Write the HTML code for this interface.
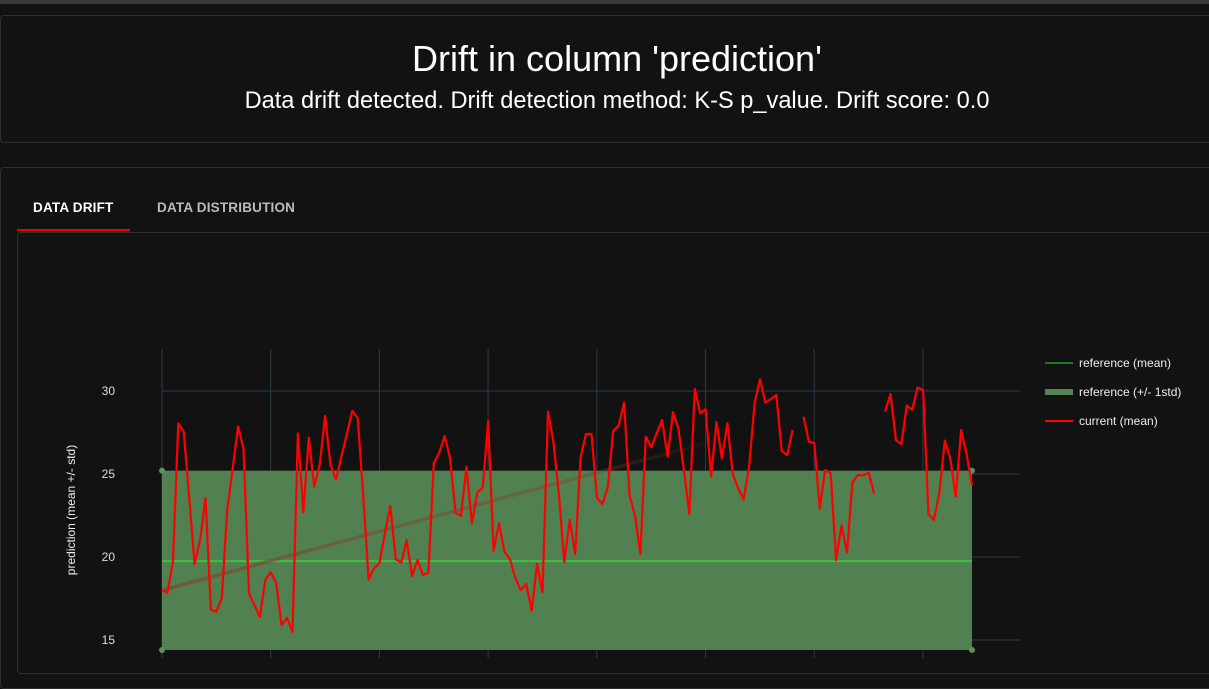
<!DOCTYPE html>
<html><head><meta charset="utf-8">
<style>
html,body{margin:0;padding:0;width:1209px;height:658px;overflow:hidden;background:#121212;font-family:"Liberation Sans",sans-serif;}
.topbar{position:absolute;left:0;top:0;width:1209px;height:4px;background:#3a3a3a;}
.panel1{position:absolute;left:0;top:15px;width:1220px;height:126px;border:1px solid #2e2e2e;border-radius:4px;background:#121212;}
.title{position:absolute;left:0;top:38px;width:1234px;text-align:center;color:#fff;font-size:36px;}
.sub{position:absolute;left:0;top:88px;width:1234px;text-align:center;color:#fff;font-size:23.6px;}
.panel2{position:absolute;left:0;top:167px;width:1220px;height:520px;border:1px solid #2e2e2e;border-radius:4px;background:#121212;}
.tab{position:absolute;top:200px;font-size:13.5px;font-weight:bold;letter-spacing:0.2px;}
.inner{position:absolute;left:17px;top:232px;width:1210px;height:440px;border:1px solid #2e2e2e;border-radius:4px;}
svg{position:absolute;left:0;top:0;}
</style></head><body>
<div class="topbar"></div>
<div class="panel1"></div>
<div class="title">Drift in column 'prediction'</div>
<div class="sub">Data drift detected. Drift detection method: K-S p_value. Drift score: 0.0</div>
<div class="panel2"></div>
<div class="tab" style="left:33px;color:#fff">DATA DRIFT</div>
<div style="position:absolute;left:17px;top:229px;width:113px;height:2px;background:#e00"></div>
<div class="tab" style="left:157px;color:#bbb">DATA DISTRIBUTION</div>
<div class="inner"></div>
<svg id="chart" width="1209" height="658">
<defs><linearGradient id="tg" x1="0" x2="1" y1="0" y2="0"><stop offset="0" stop-color="#7a4a30" stop-opacity="0.7"/><stop offset="0.7" stop-color="#7a4a30" stop-opacity="0.45"/><stop offset="1" stop-color="#5a2a20" stop-opacity="0.05"/></linearGradient></defs>
</svg>
<script>
const yTicks=[15,20,25,30];
const refMean=19.75;
const refLow=14.4;
const refHigh=25.2;
const trendStart=18.0;
const trendEnd=27.3;
const current=[18.01,17.85,19.66,28.05,27.55,23.6,19.58,21.02,23.54,16.81,16.71,17.51,22.83,25.34,27.85,26.55,17.81,17.1,16.40,18.61,19.08,18.42,15.90,16.34,15.50,27.45,22.71,27.19,24.24,25.54,28.49,25.54,24.68,26.04,27.4,28.80,28.36,23.84,18.65,19.32,19.62,21.43,23.07,19.86,19.66,21.02,18.86,19.82,18.92,19.06,25.64,26.28,27.29,25.94,22.67,22.47,25.44,22.03,23.88,24.18,28.19,20.38,22.03,20.32,19.86,18.72,18.01,18.37,16.77,19.58,17.87,28.76,26.95,23.84,19.68,22.23,20.18,26.0,27.41,27.41,23.57,23.19,24.2,27.59,27.91,29.3,23.73,22.49,20.16,27.25,26.61,27.45,28.25,26.04,28.72,27.75,25.24,22.59,30.12,28.66,28.9,24.84,28.13,25.94,28.05,24.98,24.14,23.47,25.44,29.26,30.7,29.3,29.52,29.76,26.4,26.14,27.65,null,28.45,26.95,26.85,22.93,25.24,25.04,19.82,21.89,20.28,24.5,24.94,24.92,25.08,23.8,null,28.76,29.82,27.05,26.79,29.12,28.86,30.2,30.06,22.57,22.23,23.88,27.01,25.94,23.63,27.65,26.19,24.34];
const legendLabels=["reference (mean)","reference (+/- 1std)","current (mean)"];

const svg=document.getElementById('chart');
const NS='http://www.w3.org/2000/svg';
const X0=162,X1=972,PT=349;
const y=v=>391+(30-v)*16.6;
const x=i=>X0+(X1-X0)*i/(current.length-1);
function mk(tag,attrs){const e=document.createElementNS(NS,tag);for(const k in attrs)e.setAttribute(k,attrs[k]);svg.appendChild(e);return e;}
for(let k=0;k<8;k++){const gx=X0+k*108.7;const l=mk('line',{x1:gx,x2:gx,y1:PT,y2:658,stroke:'#2c3a4a','stroke-width':1});

}
yTicks.forEach(t=>{const l=mk('line',{x1:X0,x2:1020,y1:y(t),y2:y(t),stroke:'#2c3a4a','stroke-width':1});


const tx=mk('text',{x:115,y:y(t)+4,fill:'#ddd','font-size':12,'text-anchor':'end','font-family':'Liberation Sans'});tx.textContent=t;

});
const at=mk('text',{transform:'translate(75,510) rotate(-90)',fill:'#eee','font-size':12,'text-anchor':'middle','font-family':'Liberation Sans'});at.textContent='prediction (mean +/- std)';


const band=mk('rect',{x:X0,y:y(refHigh),width:X1-X0,height:y(refLow)-y(refHigh),fill:'#548454','fill-opacity':0.97});


[[X0,refHigh],[X1,refHigh],[X0,refLow],[X1,refLow]].forEach(p=>{const c=mk('circle',{cx:p[0],cy:y(p[1]),r:3,fill:'#5e8f5e'});

});
const ml=mk('line',{x1:X0,x2:X1,y1:y(refMean),y2:y(refMean),stroke:'#3fbf3f','stroke-width':2});


const tr=mk('path',{d:'M'+X0+' '+y(trendStart)+' L'+x(105)+' '+y(trendEnd),stroke:'url(#tg)','stroke-width':3.5,fill:'none'});


let d='',pen=false;
current.forEach((v,i)=>{if(v===null){pen=false;return;}d+=(pen?'L':'M')+x(i).toFixed(1)+' '+y(v).toFixed(1)+' ';pen=true;});
const cl=mk('path',{d:d,fill:'none',stroke:'#ff0000','stroke-width':2.2,'stroke-linejoin':'round'});


const lc=['#1a7a1a','#548454','#ff0000'];
legendLabels.forEach((lab,i)=>{const ly=363+i*29;
const s=mk('line',{x1:1045,x2:1073,y1:ly,y2:ly,stroke:lc[i],'stroke-width':i==1?6:2});


const t=mk('text',{x:1079,y:ly+4,fill:'#eee','font-size':12,'font-family':'Liberation Sans'});t.textContent=lab;

});
</script>
</body></html>
